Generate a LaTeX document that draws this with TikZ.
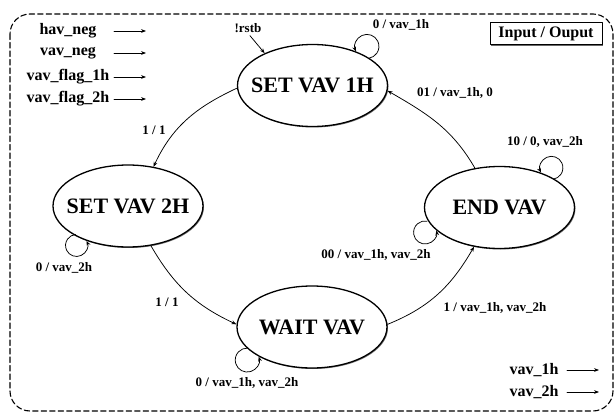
\documentclass[tikz,border=0pt]{standalone}
\usepackage{fontspec}
\setmainfont{Liberation Serif}
\usetikzlibrary{arrows.meta,shapes.geometric,shadows}
\definecolor{ink}{HTML}{000000}
\newcommand\statefont{\fontsize{22}{26}\selectfont\bfseries}
\newcommand\iofont{\fontsize{16}{19}\selectfont\bfseries}
\newcommand\lblfont{\fontsize{13}{16}\selectfont\bfseries}
\tikzset{
  >={Stealth[length=5pt,width=3.8pt]},
  every picture/.style={line cap=round, line join=round},
  state/.style={ellipse, draw=ink, fill=white, line width=1.3pt, minimum width=150pt,
    minimum height=82pt, inner xsep=-30pt, inner ysep=0pt, font=\statefont, text=ink,
    drop shadow={shadow xshift=1pt, shadow yshift=-1pt, opacity=.55, fill=black}},
  trans/.style={->, draw=ink, line width=0.75pt},
  selfloop/.style={<-, draw=ink, line width=0.75pt},
  lbl/.style={font=\lblfont, text=ink, inner sep=0pt},
  io/.style={font=\iofont, text=ink, inner sep=0pt},
  ioarr/.style={->, draw=ink, line width=0.75pt},
  legendbox/.style={draw=ink, fill=white, line width=1pt, font=\iofont, text=ink,
    minimum width=112pt, minimum height=22pt, inner sep=0pt,
    drop shadow={shadow xshift=1.2pt, shadow yshift=-1.2pt, opacity=.6, fill=black}},
  frame/.style={draw=ink, line width=1.1pt, dash pattern=on 5.5pt off 3pt, rounded corners=20pt},
}

\begin{document}
\begin{tikzpicture}[x=1pt, y=1pt]
  \useasboundingbox (0,0) rectangle (614,-412);
  \draw[frame] (10,-14) rectangle (613,-411);

  % =================== ports ===================
  \coordinate (inx) at (114,0);
  \coordinate (outx) at (567,0);
  \node[io] (hneg) at (68,-31) {hav\_neg};
  \node[io] (vneg) at (68,-53) {vav\_neg};
  \node[io] (flag1) at (68,-77) {vav\_flag\_1h};
  \node[io] (flag2) at (68,-99) {vav\_flag\_2h};
  \foreach \n in {hneg,vneg,flag1,flag2}{\draw[ioarr] (\n -| inx) -- ++(32,0);}
  \node[io] (o1) at (534,-370) {vav\_1h};
  \node[io] (o2) at (534,-392) {vav\_2h};
  \foreach \n in {o1,o2}{\draw[ioarr] (\n -| outx) -- ++(32,0);}
  \node[legendbox] (legend) at (546,-34) {Input / Ouput};

  % =================== states ===================
  \node[state] (set1) at (312.5,-85.5) {SET VAV 1H};
  \node[state] (set2) at (128,-206) {SET VAV 2H};
  \node[state] (wait) at (312,-327) {WAIT VAV};
  \node[state] (endv) at (499.5,-207.5) {END VAV};

  % reset entry
  \node[lbl] (rstb) at (248,-28.5) {!rstb};
  \draw[trans, shorten <=3pt] (rstb.south) -- (set1.146);

  % =================== transitions ===================
  \draw[trans] (set1.182) to[out=205, in=65] (set2.57);
  \node[lbl] (t12) at (154,-130) {1 / 1};
  \draw[trans] (set2.300) to[out=300, in=155] (wait.178);
  \node[lbl] (t23) at (167,-302) {1 / 1};
  \draw[trans] (wait.2) to[out=22, in=240] (endv.237);
  \node[lbl] (t34) at (495,-308) {1 / vav\_1h, vav\_2h};
  \draw[trans] (endv.122) to[out=120, in=330] (set1.356);
  \node[lbl] (t41) at (455,-93) {01 / vav\_1h, 0};

  % self loops
  \draw[selfloop] (set1.38) arc[start angle=205, delta angle=-285, radius=12];
  \node[lbl] (s1) at (401,-25) {0 / vav\_1h};
  \draw[selfloop] (set2.220) arc[start angle=25, delta angle=-290, radius=11];
  \node[lbl] (s2) at (64,-268) {0 / vav\_2h};
  \draw[selfloop] (wait.209) arc[start angle=17, delta angle=-290, radius=12];
  \node[lbl] (s3) at (247,-383) {0 / vav\_1h, vav\_2h};
  \draw[selfloop] (endv.40) arc[start angle=205, delta angle=-285, radius=11.5];
  \node[lbl] (s4a) at (545,-142) {10 / 0, vav\_2h};
  \draw[selfloop] (endv.200) arc[start angle=10, delta angle=-290, radius=11.5];
  \node[lbl] (s4b) at (376,-254.5) {00 / vav\_1h, vav\_2h};
\end{tikzpicture}
\end{document}
